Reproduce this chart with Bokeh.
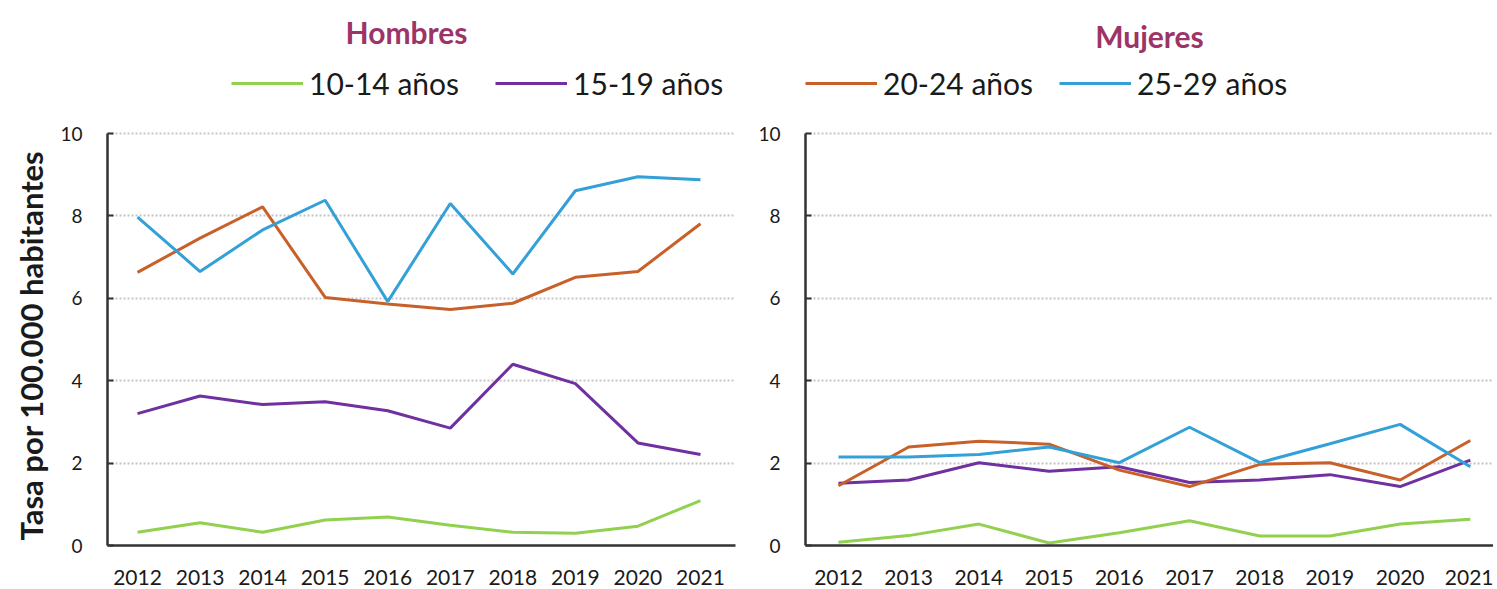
from bokeh.plotting import figure
from bokeh.layouts import row
from bokeh.models import Range1d, FixedTicker, Legend, LegendItem, ColumnDataSource, Title
from bokeh.embed import file_html
from bokeh.resources import INLINE

years = [2012, 2013, 2014, 2015, 2016, 2017, 2018, 2019, 2020, 2021]
series_names = ["10-14 años", "15-19 años", "20-24 años", "25-29 años"]

hombres_10_14 = [0.32, 0.55, 0.32, 0.62, 0.69, 0.49, 0.32, 0.30, 0.47, 1.09]
hombres_15_19 = [3.20, 3.63, 3.42, 3.49, 3.27, 2.85, 4.40, 3.93, 2.49, 2.21]
hombres_20_24 = [6.63, 7.46, 8.22, 6.02, 5.86, 5.73, 5.88, 6.51, 6.65, 7.81]
hombres_25_29 = [7.97, 6.65, 7.66, 8.38, 5.92, 8.30, 6.59, 8.61, 8.95, 8.88]

mujeres_10_14 = [0.08, 0.24, 0.52, 0.06, 0.31, 0.60, 0.23, 0.23, 0.52, 0.64]
mujeres_15_19 = [1.51, 1.59, 2.01, 1.80, 1.91, 1.53, 1.59, 1.72, 1.43, 2.07]
mujeres_20_24 = [1.45, 2.39, 2.53, 2.46, 1.83, 1.43, 1.97, 2.01, 1.59, 2.55]
mujeres_25_29 = [2.15, 2.15, 2.21, 2.39, 2.01, 2.87, 2.01, 2.47, 2.94, 1.91]

y_ticks = [0, 2, 4, 6, 8, 10]
y_label = "Tasa por 100.000 habitantes"

colors = ["#92d050", "#7030a0", "#c8602a", "#33a0d8"]
FONT = "Lato"
TITLE_COLOR = "#9c3468"

TOP = 60          # pixels above the plotting frame reserved for the title
FRAME_H = 485     # frame height (from TOP to x axis)
Y_MAX = 10 + (FRAME_H - 412) / 41.2   # extra room above 10 for the legend


def make_panel(title, data, width, border_left, border_right, x_start, x_end,
               title_standoff, title_align, title_offset, with_ylabel,
               legend_idx, legend_vx, legend_spacing):
    p = figure(width=width, height=588, output_backend="svg", toolbar_location=None,
               x_range=Range1d(x_start, x_end), y_range=Range1d(0, Y_MAX),
               min_border_left=border_left, min_border_right=border_right,
               min_border_top=TOP, min_border_bottom=43)
    p.outline_line_color = None
    p.background_fill_color = "white"
    p.border_fill_color = "white"

    p.title.text = title
    p.title.text_font = FONT
    p.title.text_font_size = "30px"
    p.title.text_font_style = "bold"
    p.title.text_color = TITLE_COLOR
    p.title.align = title_align
    p.title.offset = title_offset
    p.title.standoff = title_standoff

    renderers = []
    for vals, c in zip(data, colors):
        src = ColumnDataSource(dict(x=years, y=vals))
        r = p.line("x", "y", source=src, line_color=c, line_width=3)
        renderers.append(r)

    p.xaxis.ticker = FixedTicker(ticks=years)
    p.yaxis.ticker = FixedTicker(ticks=y_ticks)
    p.yaxis.bounds = (0, 10)
    for ax in (p.xaxis, p.yaxis):
        ax.axis_line_color = "#333333"
        ax.axis_line_width = 2.5
        ax.minor_tick_line_color = None
        ax.major_label_text_font = FONT
        ax.major_label_text_color = "#1a1a1a"
    p.xaxis.major_tick_line_color = None
    p.xaxis.major_label_text_font_size = "21px"
    p.xaxis.major_label_standoff = 18
    p.yaxis.major_tick_in = 6
    p.yaxis.major_tick_out = 0
    p.yaxis.major_tick_line_color = "#333333"
    p.yaxis.major_tick_line_width = 2
    p.yaxis.major_label_text_font_size = "19px"
    p.yaxis.major_label_standoff = 25
    if with_ylabel:
        # vertical axis title, aligned to the 0-10 span of the axis
        ytitle = Title(text=y_label, align="left", offset=5, standoff=16,
                       text_font=FONT, text_font_size="31px", text_font_style="bold",
                       text_color="#1a1a1a")
        p.add_layout(ytitle, "left")

    p.xgrid.grid_line_color = None
    p.ygrid.grid_line_color = "#c4c4c4"
    p.ygrid.grid_line_width = 2
    p.ygrid.grid_line_dash = "2 2"

    items = [LegendItem(label=series_names[i], renderers=[renderers[i]]) for i in legend_idx]
    leg = Legend(items=items, orientation="horizontal", location=(legend_vx, 444),
                 glyph_width=72, glyph_height=20, label_standoff=6, spacing=legend_spacing,
                 padding=0, margin=0, border_line_color=None,
                 background_fill_alpha=0,
                 label_text_font=FONT, label_text_font_size="30px",
                 label_text_color="#1a1a1a")
    p.add_layout(leg, "center")
    return p


left = make_panel("Hombres", [hombres_10_14, hombres_15_19, hombres_20_24, hombres_25_29],
                  width=745, border_left=107, border_right=10,
                  x_start=2011.52, x_end=2021.56, title_standoff=21,
                  title_align="left", title_offset=238,
                  with_ylabel=True, legend_idx=[0, 1], legend_vx=124, legend_spacing=36)
right = make_panel("Mujeres", [mujeres_10_14, mujeres_15_19, mujeres_20_24, mujeres_25_29],
                   width=748, border_left=60, border_right=0,
                   x_start=2011.53, x_end=2021.33, title_standoff=13,
                   title_align="center", title_offset=0,
                   with_ylabel=False, legend_idx=[2, 3], legend_vx=0, legend_spacing=26)

layout = row(left, right)
open("out.html", "w").write(file_html(layout, INLINE))
